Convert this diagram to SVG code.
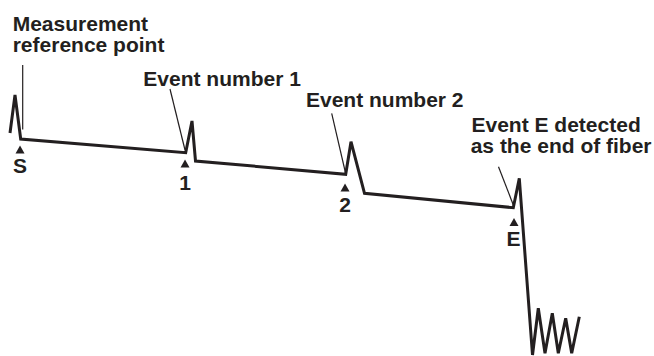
<svg xmlns="http://www.w3.org/2000/svg" width="654" height="356" viewBox="0 0 654 356">
<style>
.lbl{font-family:"Liberation Sans",Arial,sans-serif;font-weight:bold;font-size:21px;fill:#231f20}
.mk{font-family:"Liberation Sans",Arial,sans-serif;font-weight:bold;font-size:21px;fill:#231f20;text-anchor:middle}
.trace{fill:none;stroke:#231f20;stroke-width:3;stroke-linejoin:miter}
.leader{fill:none;stroke:#231f20;stroke-width:1.2}
.tri{fill:#231f20}
</style>
<rect width="654" height="356" fill="#ffffff"/>
<g id="connectors">
<path class="trace" d="M10,133 L15,95 L20.7,139 L185.7,152.7 L192,121 L195.5,161 L345.7,174.3 L351,141.7 L364.5,193.3 L513.3,207.7 L519.3,178.3 L532.5,355 L538.3,308.3 L545,353.3 L552.3,313.3 L558.3,353.3 L565.7,318.3 L571.7,353.3 L579.3,316.7"/>
<line class="leader" x1="22.7" y1="65" x2="22.7" y2="129.5"/>
<line class="leader" x1="170" y1="89" x2="185" y2="150"/>
<line class="leader" x1="331.7" y1="113.3" x2="345.3" y2="172"/>
<line class="leader" x1="498.5" y1="166.7" x2="513.5" y2="205.5"/>
</g>
<g id="node-ref">
<text class="lbl" x="12.7" y="31">Measurement</text>
<text class="lbl" x="12.7" y="52">reference point</text>
</g>
<g id="node-ev1">
<text class="lbl" x="143.3" y="86">Event number 1</text>
</g>
<g id="node-ev2">
<text class="lbl" x="306" y="107">Event number 2</text>
</g>
<g id="node-evE">
<text class="lbl" x="471.5" y="132">Event E detected</text>
<text class="lbl" x="470.7" y="153">as the end of fiber</text>
</g>
<g id="node-S">
<polygon class="tri" points="20,145.5 15.5,153.5 24.5,153.5"/>
<text class="mk" x="20" y="173">S</text>
</g>
<g id="node-1">
<polygon class="tri" points="185,159.5 180.5,167.5 189.5,167.5"/>
<text class="mk" x="185" y="190">1</text>
</g>
<g id="node-2">
<polygon class="tri" points="345,183.5 340.5,191.5 349.5,191.5"/>
<text class="mk" x="345" y="212">2</text>
</g>
<g id="node-E">
<polygon class="tri" points="514,218 509.5,226 518.5,226"/>
<text class="mk" x="513.5" y="246">E</text>
</g>
</svg>
